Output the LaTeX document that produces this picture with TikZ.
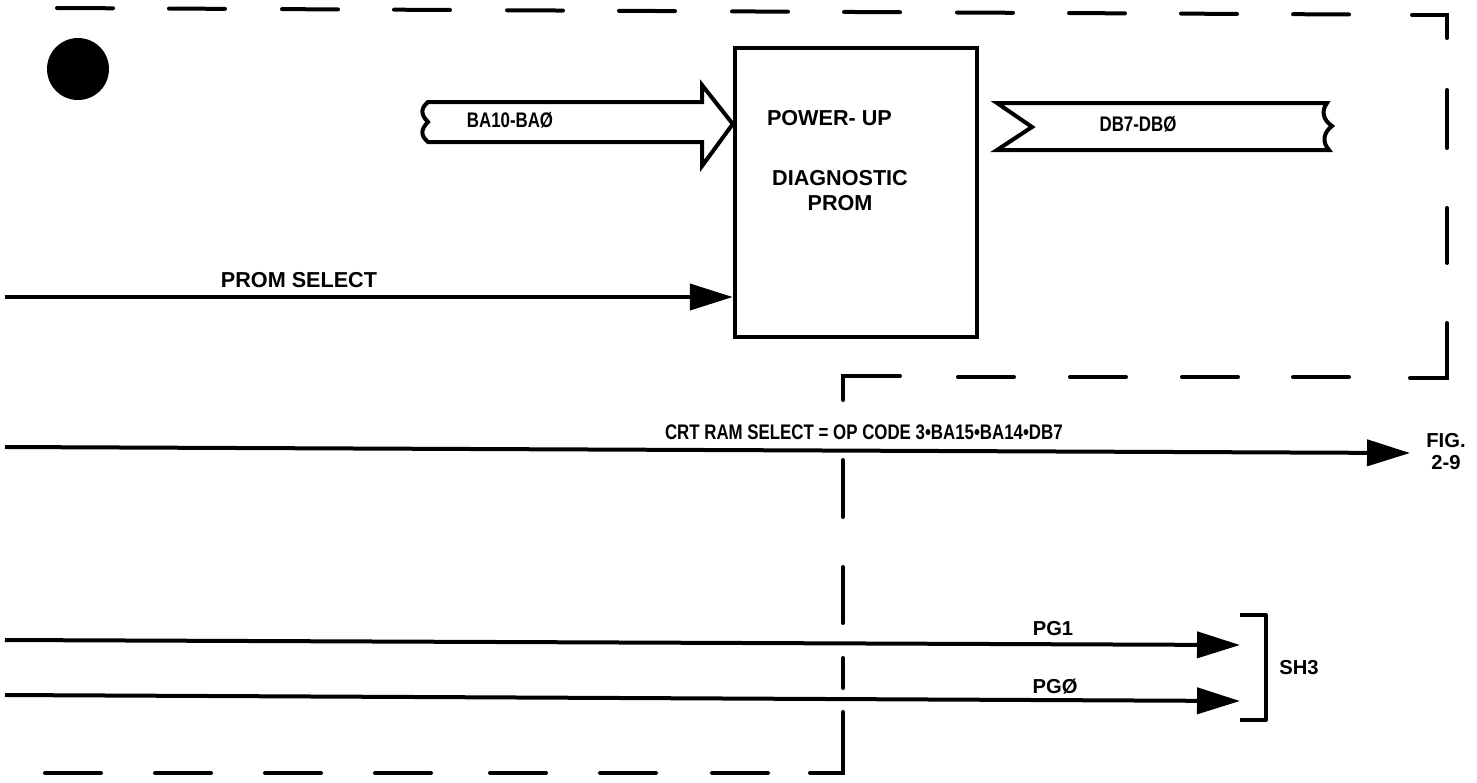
\documentclass[tikz,border=0pt]{standalone}
\usepackage{fontspec}
\setmainfont{Liberation Sans}
\newfontfamily\condfont[FakeStretch=0.8]{Liberation Sans}
\usetikzlibrary{arrows.meta}
\begin{document}
\begin{tikzpicture}[x=0.02cm,y=-0.02cm,
  dsh/.style={line width=0.08cm, line cap=round, line join=miter},
  sig/.style={line width=0.08cm, -{Triangle[length=0.86cm,width=0.52cm]}},
  bus/.style={line width=0.08cm, line join=miter, fill=white},
  lbl/.style={inner sep=0pt, outer sep=0pt},
  fbig/.style={font=\bfseries\fontsize{12.3}{14}\selectfont},
  fmid/.style={font=\bfseries\fontsize{11.5}{12.5}\selectfont},
  fsmall/.style={font=\condfont\bfseries\fontsize{12}{13}\selectfont},
]
\useasboundingbox (0,0) rectangle (1477,782);
\fill[white] (0,0) rectangle (1477,782);

% dashed boundary
\foreach \a in {57,169,282,394,507,619,732,844,957,1069,1181,1293}
  \draw[dsh] (\a,{8+0.005*(\a-57)}) -- ({\a+56},{8+0.005*(\a-1)});
\draw[dsh] (1412,15) -- (1447,15) -- (1447,38);
\draw[dsh] (1447,90) -- (1447,148);
\draw[dsh] (1447,208) -- (1447,263);
\draw[dsh] (1447,323) -- (1447,378) -- (1410,378);
\foreach \a in {958,1070,1182,1293}
  \draw[dsh] (\a,377) -- ({\a+56},377);
\draw[dsh] (900,376) -- (843,376) -- (843,400);
\draw[dsh] (843,460) -- (843,517);
\draw[dsh] (843,567) -- (843,623);
\draw[dsh] (843,658) -- (843,688);
\draw[dsh] (843,712) -- (843,773) -- (810,773);
\foreach \a in {45,155,265,375,490,600,712}
  \draw[dsh] (\a,773) -- ({\a+56},773);

% dot
\fill (78,69) circle[radius=0.62cm];

% PROM box
\node[draw, line width=0.09cm, minimum width=4.84cm, minimum height=5.78cm, inner sep=0pt] (prom) at (856,192.5) {};
\node[lbl, fbig, anchor=west] (pu) at (767,118) {POWER- UP};
\node[lbl, fbig] (dg) at (840,178) {DIAGNOSTIC};
\node[lbl, fbig] (pr) at (840,203) {PROM};

% BA10-BA0 bus
\draw[bus] (428,102) -- (702,102) -- (702,85) -- (prom.west |- 0,124) -- (702,166) -- (702,142) -- (428,142)
  .. controls (421,136) and (420,130) .. (428,122)
  .. controls (420,114) and (421,108) .. (428,102) -- cycle;
\node[lbl, fsmall] (ba) at (510,120) {BA10-BAØ};

% DB7-DB0 bus
\draw[bus] (997,103) -- (1327,103)
  .. controls (1321,111) and (1323,120) .. (1332,126)
  .. controls (1323,133) and (1322,142) .. (1329,150)
  -- (997,150) -- (1032,127) -- cycle;
\node[lbl, fsmall] (db) at (1138,124) {DB7-DBØ};

% PROM SELECT
\coordinate (psL) at (5,297);
\draw[sig] (psL) -- (prom.west |- psL);
\node[lbl, fbig] (ps) at (299,280) {PROM SELECT};

% CRT RAM SELECT
\coordinate (crtL) at (5,447);
\coordinate (crtR) at (1410,453);
\draw[sig] (crtL) -- (crtR);
\node[lbl, fsmall, anchor=west] (crt) at (665,432) {CRT RAM SELECT = OP CODE 3•BA15•BA14•DB7};
\node[lbl, fmid, align=center] (fig) at (1446,452) {FIG.\\2-9};

% PG1 / PG0
\coordinate (pg1L) at (5,640);
\coordinate (pg1R) at (1240,645);
\coordinate (pg0L) at (5,695);
\coordinate (pg0R) at (1240,701);
\draw[sig] (pg1L) -- (pg1R);
\draw[sig] (pg0L) -- (pg0R);
\node[lbl, fmid] (pg1) at (1053,629) {PG1};
\node[lbl, fmid] (pg0) at (1055,687) {PGØ};

% bracket and SH3
\draw[line width=0.08cm, line join=round] (1240,615) -- (1266,615) -- (1266,720) -- (1240,720);
\node[lbl, fmid] (sh) at (1299,668) {SH3};
\end{tikzpicture}
\end{document}
